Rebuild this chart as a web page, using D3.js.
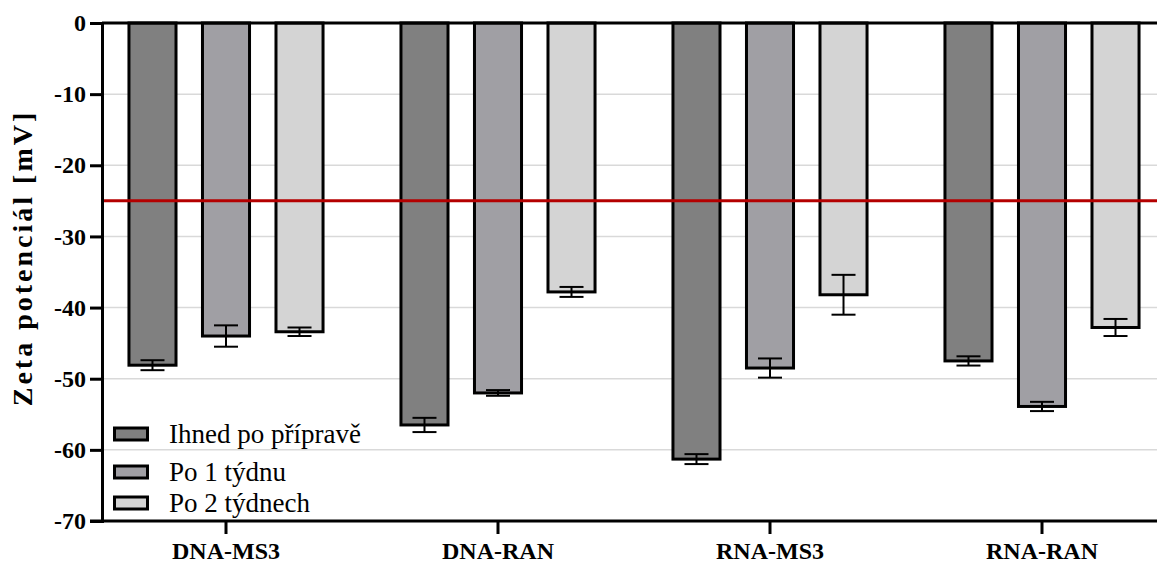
<!DOCTYPE html>
<meta charset="utf-8">
<script src="https://d3js.org/d3.v7.min.js"></script>
<style>
  body { margin: 0; background: #fff; }
</style>
<div id="chart"></div>
<script>
// groups and series
var groups = ["DNA-MS3", "DNA-RAN", "RNA-MS3", "RNA-RAN"];
var series = ["Ihned po přípravě", "Po 1 týdnu", "Po 2 týdnech"];
var colors = ["#808080", "#a09fa4", "#d4d4d4"];

// mean zeta potential [mV], one array per series (in group order)
var ihned   = [-48.1, -56.5, -61.3, -47.5];
var tyden1  = [-44.0, -52.0, -48.5, -53.9];
var tyden2  = [-43.4, -37.8, -38.2, -42.8];
// error (half-range)
var ihnedErr  = [0.7, 1.0, 0.7, 0.65];
var tyden1Err = [1.5, 0.4, 1.35, 0.65];
var tyden2Err = [0.6, 0.7, 2.8, 1.2];

var yTicks = [0, -10, -20, -30, -40, -50, -60, -70];
var limit = -25;

var W = 1157, H = 563;
var serif = "'Liberation Serif', 'Times New Roman', Times, serif";

var means = [ihned, tyden1, tyden2];
var errs = [ihnedErr, tyden1Err, tyden2Err];
var data = [];
groups.forEach(function(g, gi) {
  series.forEach(function(s, si) {
    data.push({group: g, series: s, si: si, value: means[si][gi], err: errs[si][gi]});
  });
});

var svg = d3.select("#chart").append("svg")
  .attr("width", W).attr("height", H)
  .style("font-family", serif);

var y = d3.scaleLinear().domain([-70, 0]).range([521, 23]);
var x0 = d3.scaleBand().domain(groups).range([90, 1178]);
var x1 = d3.scaleBand().domain(series).range([0, x0.bandwidth()])
  .paddingInner(0.36).paddingOuter(0.53);

var axisX = 102;

// grid lines
svg.append("g").selectAll("line")
  .data(yTicks.filter(function(d) { return d !== 0 && d !== -70; }))
  .enter().append("line")
    .attr("x1", axisX).attr("x2", W)
    .attr("y1", function(d) { return y(d); })
    .attr("y2", function(d) { return y(d); })
    .style("stroke", "#d9d9d9")
    .style("stroke-width", 1.5);

// bars
svg.append("g").selectAll("rect")
  .data(data)
  .enter().append("rect")
    .attr("x", function(d) { return x0(d.group) + x1(d.series); })
    .attr("y", y(0))
    .attr("width", x1.bandwidth())
    .attr("height", function(d) { return y(d.value) - y(0); })
    .style("fill", function(d) { return colors[d.si]; })
    .style("stroke", "#000")
    .style("stroke-width", 3);

// error bars
var eb = svg.append("g").selectAll("g")
  .data(data)
  .enter().append("g")
    .attr("transform", function(d) {
      return "translate(" + (x0(d.group) + x1(d.series) + x1.bandwidth() / 2) + ",0)";
    });
eb.append("line")
  .attr("y1", function(d) { return y(d.value + d.err); })
  .attr("y2", function(d) { return y(d.value - d.err); });
eb.append("line")
  .attr("x1", -12).attr("x2", 12)
  .attr("y1", function(d) { return y(d.value + d.err); })
  .attr("y2", function(d) { return y(d.value + d.err); });
eb.append("line")
  .attr("x1", -12).attr("x2", 12)
  .attr("y1", function(d) { return y(d.value - d.err); })
  .attr("y2", function(d) { return y(d.value - d.err); });
eb.selectAll("line").style("stroke", "#000").style("stroke-width", 2);

// red limit line
svg.append("line")
  .attr("x1", axisX + 1).attr("x2", W)
  .attr("y1", y(limit)).attr("y2", y(limit))
  .style("stroke", "#b40000")
  .style("stroke-width", 3);

// zero line on top
svg.append("line")
  .attr("x1", axisX).attr("x2", W)
  .attr("y1", y(0)).attr("y2", y(0))
  .style("stroke", "#000").style("stroke-width", 3);

// y axis
var yAxis = svg.append("g")
  .attr("transform", "translate(" + axisX + ",0)")
  .call(d3.axisLeft(y).tickValues(yTicks).tickSize(12).tickPadding(4).tickFormat(d3.format("d")));
yAxis.attr("font-family", null);
yAxis.select(".domain").style("stroke-width", 3);
yAxis.selectAll(".tick line").style("stroke-width", 3);
yAxis.selectAll("text")
  .style("font-size", "24px")
  .style("font-weight", "bold")
  .style("fill", "#000")
  .text(function(d) { return d === 0 ? "0" : "-" + Math.abs(d); });

// x axis
var xAxis = svg.append("g")
  .attr("transform", "translate(0," + y(-70) + ")");
xAxis.append("line")
  .attr("x1", axisX - 12).attr("x2", W)
  .style("stroke", "#000").style("stroke-width", 3);
var xt = xAxis.selectAll(".xtick")
  .data(groups)
  .enter().append("g")
    .attr("transform", function(d) { return "translate(" + (x0(d) + x0.bandwidth() / 2) + ",0)"; });
xt.append("line").attr("y2", 13).style("stroke", "#000").style("stroke-width", 3);
xt.append("text")
  .attr("y", 38)
  .attr("text-anchor", "middle")
  .style("font-size", "24px")
  .style("font-weight", "bold")
  .text(function(d) { return d; });

// y label
svg.append("text")
  .attr("transform", "translate(32,258) rotate(-90)")
  .attr("text-anchor", "middle")
  .style("font-size", "28px")
  .style("font-weight", "bold")
  .style("letter-spacing", "3px")
  .text("Zeta potenciál [mV]");

// legend
var legendY = [434, 472, 503];
var lg = svg.append("g").selectAll("g")
  .data(series)
  .enter().append("g")
    .attr("transform", function(d, i) { return "translate(113," + legendY[i] + ")"; });
lg.append("rect")
  .attr("x", 1.5).attr("y", -6)
  .attr("width", 33).attr("height", 12)
  .style("fill", function(d, i) { return colors[i]; })
  .style("stroke", "#000").style("stroke-width", 3);
lg.append("text")
  .attr("x", 56).attr("y", 9)
  .style("font-size", "27px")
  .text(function(d) { return d; });

svg.selectAll("text").style("font-family", serif);
</script>
